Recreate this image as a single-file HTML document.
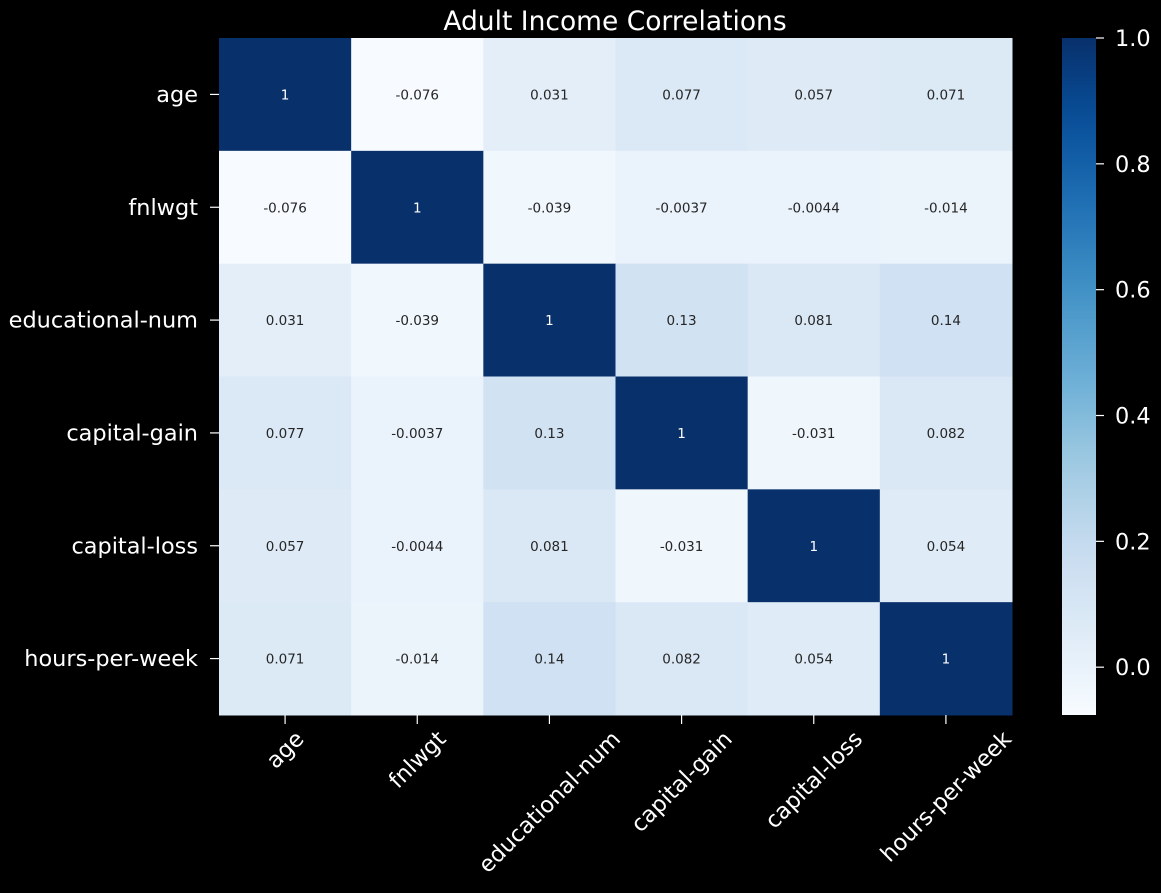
<!DOCTYPE html>
<html><head><meta charset="utf-8"><style>
html,body{margin:0;padding:0;background:#000;}
svg{display:block;font-family:"DejaVu Sans","Liberation Sans",sans-serif;}
</style></head><body>
<svg id="chart" width="1161" height="893" viewBox="0 0 1161 893">
<rect width="1161" height="893" fill="#000"/>
<text x="615" y="30" fill="#fff" font-size="26.5" text-anchor="middle">Adult Income Correlations</text>
<g id="cells"></g><g id="axes"></g><g id="cbar"></g>
</svg>
<script>
const labels = ["age","fnlwgt","educational-num","capital-gain","capital-loss","hours-per-week"];
const row0 = [1,-0.076,0.031,0.077,0.057,0.071];
const row1 = [-0.076,1,-0.039,-0.0037,-0.0044,-0.014];
const row2 = [0.031,-0.039,1,0.13,0.081,0.14];
const row3 = [0.077,-0.0037,0.13,1,-0.031,0.082];
const row4 = [0.057,-0.0044,0.081,-0.031,1,0.054];
const row5 = [0.071,-0.014,0.14,0.082,0.054,1];
const matrix = [row0,row1,row2,row3,row4,row5];
const cbTicks = [0.0,0.2,0.4,0.6,0.8,1.0];
const vmin = -0.076, vmax = 1.0;

const NS="http://www.w3.org/2000/svg";
const X0=219,X1=1012,Y0=38,Y1=715;
const cw=(X1-X0)/labels.length, ch=(Y1-Y0)/labels.length;
const stops=["#f7fbff","#deebf7","#c6dbef","#9ecae1","#6baed6","#4292c6","#2171b5","#08519c","#08306b"];
function hex(h){return [1,3,5].map(i=>parseInt(h.substr(i,2),16));}
function blues(t){t=Math.max(0,Math.min(1,t));const p=t*8,i=Math.min(7,Math.floor(p)),f=p-i;
 const a=hex(stops[i]),b=hex(stops[i+1]);return "rgb("+a.map((v,k)=>Math.round(v+(b[k]-v)*f)).join(",")+")";}
function norm(v){return (v-vmin)/(vmax-vmin);}
function mk(tag,attrs,parent){const e=document.createElementNS(NS,tag);for(const k in attrs)e.setAttribute(k,attrs[k]);parent.appendChild(e);return e;}
const cells=document.getElementById("cells"),axes=document.getElementById("axes"),cb=document.getElementById("cbar");
matrix.forEach((row,r)=>row.forEach((v,c)=>{
 const x=X0+c*cw,y=Y0+r*ch;
 const rc=mk("rect",{x:x,y:y,width:cw+0.5,height:ch+0.5,fill:blues(norm(v))},cells);
 
 
 const t=mk("text",{x:x+cw/2,y:y+ch/2+5,"font-size":13.5,"text-anchor":"middle",fill:norm(v)>0.6?"#fff":"#262626"},cells);
 t.textContent=String(v);
 
 
}));
labels.forEach((l,i)=>{
 const yc=Y0+(i+0.5)*ch;
 const tk=mk("line",{x1:210,x2:219,y1:yc,y2:yc,stroke:"#fff","stroke-width":1.2},axes);
 
 
 const t=mk("text",{x:198,y:yc+7.5,"font-size":22.4,"text-anchor":"end",fill:"#fff"},axes);
 t.textContent=l;
 
 
 const xc=X0+(i+0.5)*cw;
 const tx=mk("line",{x1:xc,x2:xc,y1:715,y2:724,stroke:"#fff","stroke-width":1.2},axes);
 
 
 const xt=mk("text",{x:0,y:0,"font-size":22.4,"text-anchor":"middle",fill:"#fff"},axes);
 xt.textContent=l;
 
 
 const L=xt.getComputedTextLength(),h=17;
 const cy=729+(L*0.707+h*0.707)/2;
 xt.setAttribute("transform","translate("+xc+","+cy+") rotate(-45) translate(0,"+(h/2-1)+")");
});
const defs=mk("defs",{},cb);
const g=mk("linearGradient",{id:"cbg",x1:0,y1:1,x2:0,y2:0},defs);
for(let i=0;i<=20;i++){mk("stop",{offset:i/20,"stop-color":blues(i/20)},g);}
const bar=mk("rect",{x:1062,y:Y0,width:34,height:Y1-Y0,fill:"url(#cbg)"},cb);


cbTicks.forEach(v=>{
 const y=Y1-(v-vmin)/(vmax-vmin)*(Y1-Y0);
 const tl=mk("line",{x1:1096,x2:1104,y1:y,y2:y,stroke:"#fff","stroke-width":1.2},cb);
 
 
 const t=mk("text",{x:1115,y:y+8,"font-size":22.4,fill:"#fff"},cb);
 t.textContent=v.toFixed(1);
 
 
});
</script>
</body></html>
